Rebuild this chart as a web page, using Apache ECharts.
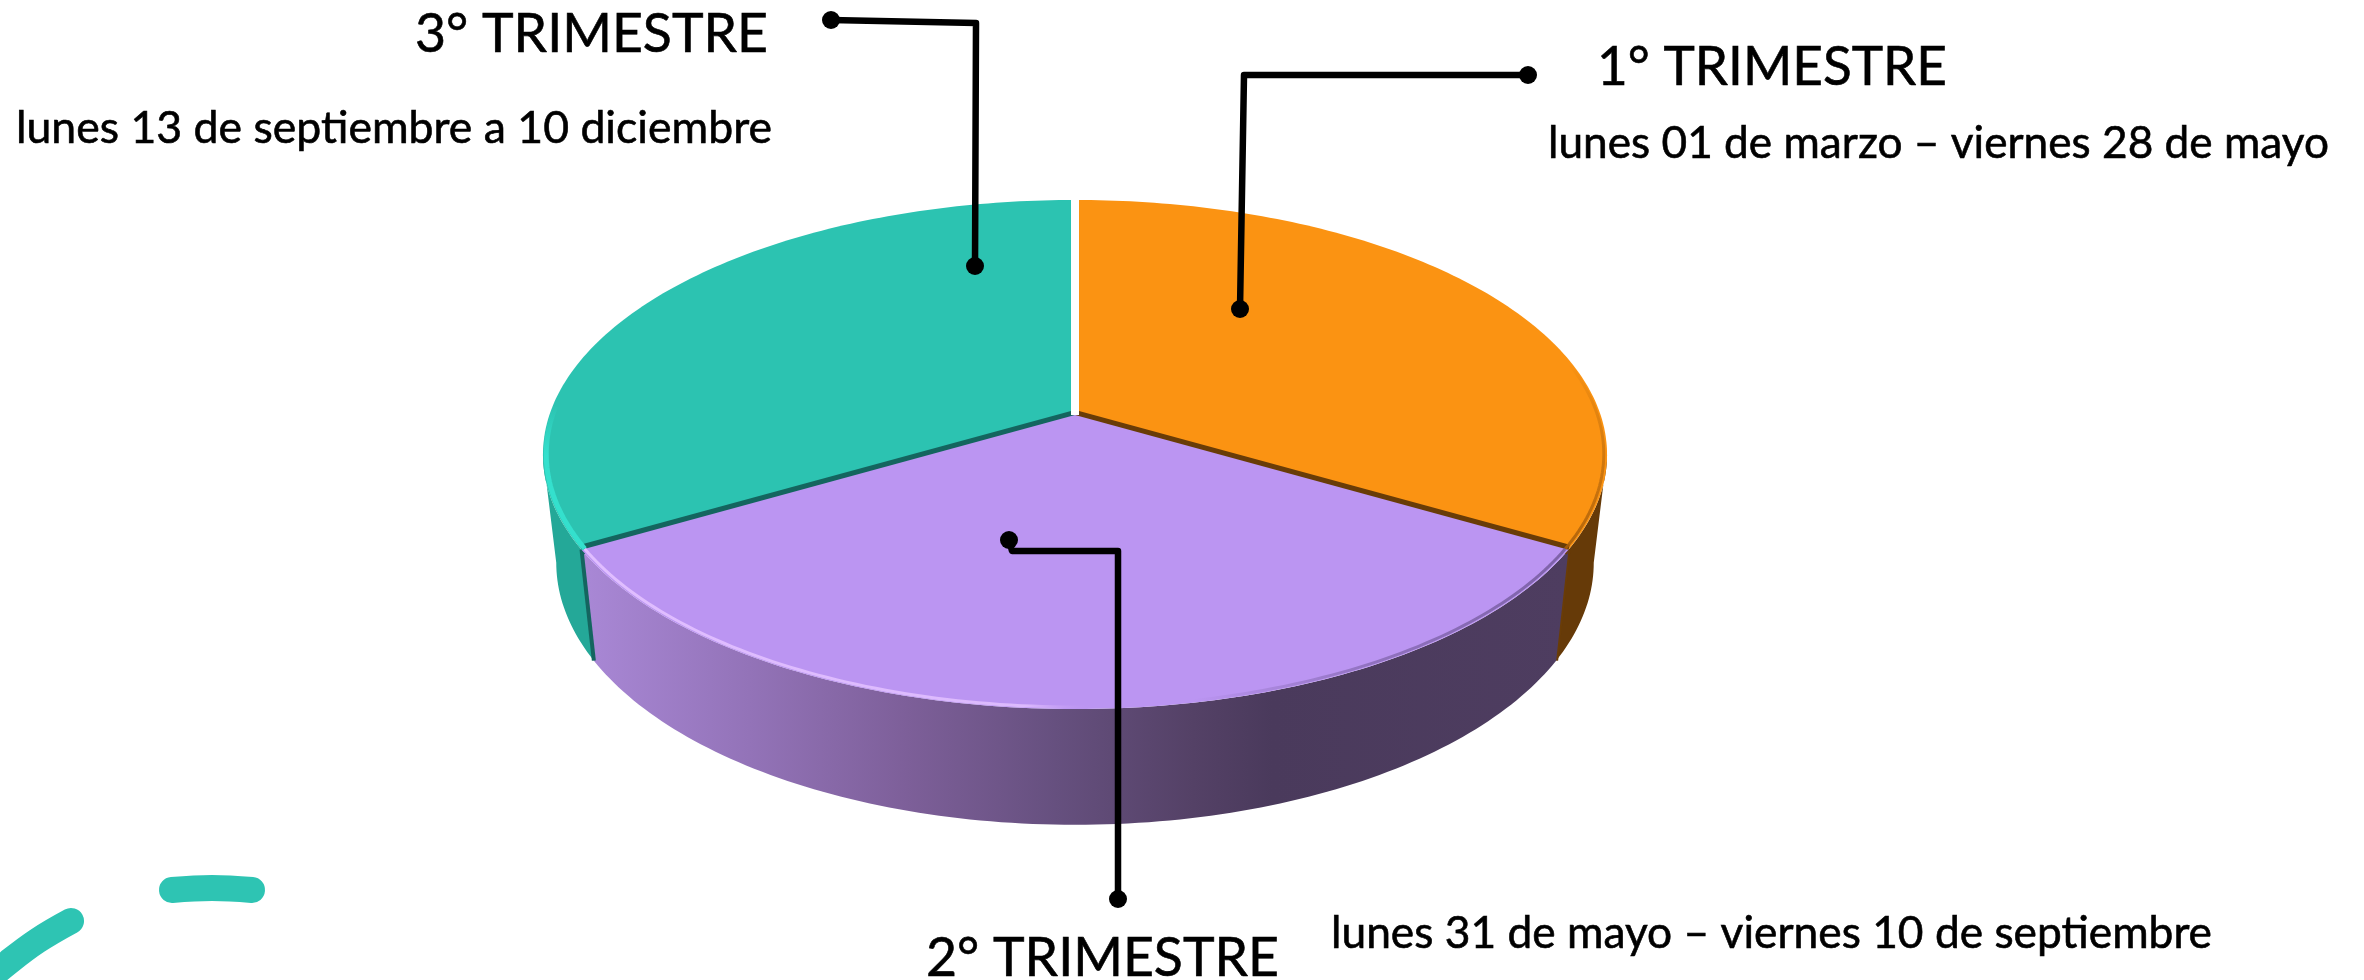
<!DOCTYPE html>
<html>
<head>
<meta charset="utf-8">
<title>Trimestres</title>
<script src="https://cdn.jsdelivr.net/npm/echarts@6/dist/echarts.min.js"></script>
<style>
  html, body { margin: 0; padding: 0; background: #fff; }
  #chart { width: 2364px; height: 980px; }
</style>
</head>
<body>
<div id="chart"></div>
<script>
// datos de la grafica
const categories = ['1° TRIMESTRE', '2° TRIMESTRE', '3° TRIMESTRE']
const dateRanges = [
  'lunes 01 de marzo – viernes 28 de mayo',
  'lunes 31 de mayo – viernes 10 de septiembre',
  'lunes 13 de septiembre a 10 diciembre'
]
// the three slices read as equal shares
const shares = [33.3, 33.3, 33.3]

const topColors = ['#FB9312', '#BB95F2', '#2CC3B1']
const edgeColors = ['#693C07', '#BB95F2', '#14655F']
const FRONT = 1

// perspective of the pie plane
const CX = 1075
const CY = 415
const RX = 525.6
const PERSP = -0.1552
const SLOPE_Y = 184

const project = (deg, r = 1) => {
  let rad = (deg * Math.PI) / 180
  let u = r * Math.sin(rad)
  let v = -r * Math.cos(rad)
  let w = 1 + PERSP * v
  return [CX + (RX * u) / w, (SLOPE_Y * v + CY) / w]
}
// same point on the bottom of the extruded disc
const drop = p => [CX + (p[0] - CX) * 0.975, 1.03 * p[1] + 94.5]

const arc = (from, to, r = 1) => {
  let pts = []
  let n = Math.max(2, Math.ceil(Math.abs(to - from)))
  for (let i = 0; i <= n; i++) {
    pts.push(project(from + ((to - from) * i) / n, r))
  }
  return pts
}

const total = shares.reduce((a, b) => a + b, 0)
let acc = 0
const sliceData = shares.map((v, i) => {
  let start = (acc / total) * 360
  acc += v
  return { name: categories[i], value: [start, (acc / total) * 360, v] }
})

// angle where the side wall stops being visible
const WALL_FROM = (Math.acos(PERSP) * 180) / Math.PI
const WALL_TO = 360 - WALL_FROM

const wallFill = i => {
  if (i === 0) return '#663A08'
  if (i === 2) return '#24A898'
  return new echarts.graphic.LinearGradient(0, 0, 1, 0, [
    { offset: 0, color: '#A988D6' },
    { offset: 0.17, color: '#9373B8' },
    { offset: 0.33, color: '#7D5F99' },
    { offset: 0.48, color: '#66507F' },
    { offset: 0.62, color: '#544166' },
    { offset: 0.7, color: '#4A3A5C' },
    { offset: 1, color: '#4E3D60' }
  ])
}

const rimStroke = i => {
  if (i === 0) {
    return new echarts.graphic.LinearGradient(0, 0, 0, 1, [
      { offset: 0, color: 'rgba(150,85,10,0)' },
      { offset: 0.5, color: 'rgba(170,95,10,0.5)' },
      { offset: 1, color: 'rgba(170,95,10,0.9)' }
    ])
  }
  if (i === 2) {
    return new echarts.graphic.LinearGradient(0, 0, 0, 1, [
      { offset: 0, color: 'rgba(52,224,205,0)' },
      { offset: 0.35, color: 'rgba(52,224,205,1)' },
      { offset: 1, color: 'rgba(52,224,205,1)' }
    ])
  }
  return new echarts.graphic.LinearGradient(0, 0, 1, 0, [
    { offset: 0, color: 'rgba(224,190,255,1)' },
    { offset: 0.45, color: 'rgba(224,190,255,0.9)' },
    { offset: 0.52, color: 'rgba(190,150,240,0)' },
    { offset: 0.62, color: 'rgba(110,85,150,0)' },
    { offset: 0.8, color: 'rgba(110,85,150,0.55)' },
    { offset: 1, color: 'rgba(110,85,150,0.8)' }
  ])
}

const renderSlice = (params, api) => {
  let i = params.dataIndex
  let start = api.value(0)
  let end = api.value(1)
  let children = []
  let apex = project(0, 0)

  // side wall
  let wFrom = Math.max(start, WALL_FROM)
  let wTo = Math.min(end, WALL_TO)
  if (wTo > wFrom) {
    let upper = arc(wFrom, wTo)
    let lower = upper.map(drop).reverse()
    children.push({
      type: 'polygon',
      z2: i === FRONT ? 2 : 1,
      shape: { points: upper.concat(lower) },
      style: { fill: wallFill(i) }
    })
  }

  // top face
  children.push({
    type: 'polygon',
    z2: i === FRONT ? 6 : 3,
    shape: { points: [apex].concat(arc(start, end)) },
    style: { fill: topColors[i] }
  })

  // dark edge on the cut towards the front slice
  if (i !== FRONT) {
    let cut = i < FRONT ? end : start
    let rim = project(cut)
    children.push({
      type: 'polyline',
      z2: 4,
      shape: { points: [apex, rim] },
      style: { stroke: edgeColors[i], lineWidth: 10, fill: null }
    })
    children.push({
      type: 'polyline',
      z2: 2,
      shape: { points: [rim, drop(rim)] },
      style: { stroke: edgeColors[i], lineWidth: 4, fill: null }
    })
  }

  // light on the outer rim
  let rimFrom = i === 0 ? 78 : i === 2 ? Math.max(start, 240) : start
  let rimTo = i === 0 ? end : i === 2 ? 272 : end
  children.push({
    type: 'polyline',
    z2: 7,
    shape: { points: arc(rimFrom, rimTo, 0.994) },
    style: { stroke: rimStroke(i), lineWidth: i === 2 ? 5 : 3, fill: null }
  })

  // white gap at twelve o'clock
  if (start === 0) {
    children.push({
      type: 'polyline',
      z2: 5,
      shape: { points: [apex, [CX, project(0)[1] - 2]] },
      style: { stroke: '#fff', lineWidth: 8, fill: null }
    })
  }
  return { type: 'group', children }
}

// etiquetas y lineas guia
const LABEL_FONT = 'Lato, "Open Sans", sans-serif'
const titleBoxes = [
  { x: 1597, right: 1947, baseline: 85 },
  { x: 926, right: 1279, baseline: 976 },
  { x: 415, right: 768, baseline: 52 }
]
const rangeBoxes = [
  { x: 1548, right: 2329, baseline: 158 },
  { x: 1331, right: 2212, baseline: 948 },
  { x: 16, right: 772, baseline: 143 }
]
const leaders = [
  [[1528, 75], [1244, 75], [1240, 309]],
  [[1118, 899], [1118, 551], [1012, 551], [1009, 540]],
  [[831, 20], [976, 23], [975, 266]]
]
const dashes = [
  [[172, 890], [212, 888], [252, 890]],
  [[-10, 978], [5, 965], [37, 941], [71, 921]]
]

const ctx = document.createElement('canvas').getContext('2d')
const fitText = (text, box, size) => {
  let font = `${size}px ${LABEL_FONT}`
  ctx.font = font
  return {
    type: 'text',
    z: 100,
    x: box.x,
    y: box.baseline - size * 0.33,
    scaleX: (box.right - box.x) / ctx.measureText(text).width,
    style: {
      text,
      font,
      fill: '#000',
      stroke: '#000',
      lineWidth: 0.6,
      align: 'left',
      verticalAlign: 'middle'
    }
  }
}

const graphics = []
dashes.forEach(points => {
  graphics.push({
    type: 'polyline',
    z: 100,
    shape: { points, smooth: 0.4 },
    style: { stroke: '#2EC4B3', lineWidth: 26, lineCap: 'round', fill: null }
  })
})
leaders.forEach(points => {
  graphics.push({
    type: 'polyline',
    z: 100,
    shape: { points },
    style: { stroke: '#000', lineWidth: 6.5, lineJoin: 'round', fill: null }
  })
  ;[points[0], points[points.length - 1]].forEach(p => {
    graphics.push({
      type: 'circle',
      z: 100,
      shape: { cx: p[0], cy: p[1], r: 9 },
      style: { fill: '#000' }
    })
  })
})
categories.forEach((name, i) => {
  graphics.push(fitText(name, titleBoxes[i], 54))
  graphics.push(fitText(dateRanges[i], rangeBoxes[i], 44))
})

const chart = echarts.init(document.getElementById('chart'))
chart.setOption({
  animation: false,
  backgroundColor: '#fff',
  tooltip: {
    trigger: 'item',
    formatter: item => `${item.name}<br/>${dateRanges[item.dataIndex]}`
  },
  series: [
    {
      type: 'custom',
      coordinateSystem: 'none',
      renderItem: renderSlice,
      data: sliceData
    }
  ],
  graphic: graphics
})
</script>
</body>
</html>
